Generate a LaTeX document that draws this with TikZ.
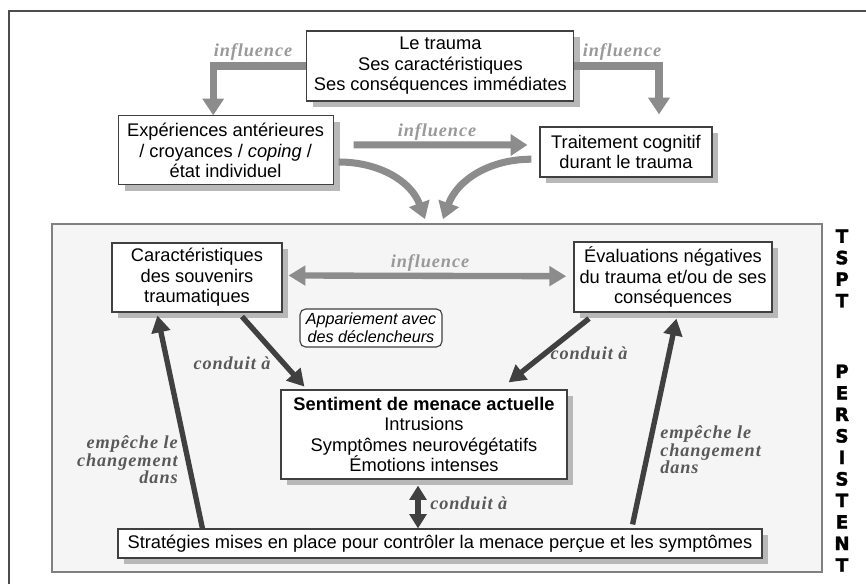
\documentclass[tikz,border=0pt]{standalone}
\usepackage{fontspec}
\setmainfont{Liberation Sans}
\newfontfamily\etiqfont[LetterSpace=5]{Liberation Serif}
\newfontfamily\tsptfont[BoldFeatures={FakeBold=1.8}]{DejaVu Sans}
\usepackage{tikz}
\usetikzlibrary{arrows.meta, positioning, shadows, calc}

\begin{document}
\begin{tikzpicture}[
  boite/.style={
    draw=black!75, line width=0.8pt, fill=white, align=center,
    font=\fontsize{13}{14.6}\selectfont, inner sep=2pt,
    drop shadow={shadow xshift=0.16cm, shadow yshift=-0.16cm, fill=black!28, opacity=1}
  },
  fleche/.style={
    -{Triangle[length=0.42cm, width=0.52cm]},
    line width=5pt, draw=black!45
  },
  flechesombre/.style={
    -{Triangle[length=0.42cm, width=0.46cm]},
    line width=3.8pt, draw=black!75
  },
  etiq/.style={font=\etiqfont\bfseries\itshape\fontsize{13}{12.5}\selectfont,
    text=black!40, inner sep=0pt, align=center},
  etiqsombre/.style={etiq, text=black!65}
]
\useasboundingbox (0,0) rectangle (21.65,14.6);

% --- cadre extérieur ---
\draw[line width=1.1pt, draw=black!70] (0.225,0) -- (0.225,14.325) -- (21.65,14.325);

% --- 1. Le trauma et ce qui l'entoure ---
\node[boite, minimum width=6.675cm, minimum height=1.75cm] (trauma) at (11.01,12.95)
  {Le trauma\\Ses caractéristiques\\Ses conséquences immédiates};
\node[boite, minimum width=5.375cm, minimum height=1.725cm] (exp) at (5.64,10.84)
  {Expériences antérieures\\/ croyances / \textit{coping} /\\état individuel};
\node[boite, minimum width=4.3cm, minimum height=1.25cm] (trait) at (15.65,10.8)
  {Traitement cognitif\\durant le trauma};

% --- 2. Cadre TSPT persistant ---
\node[draw=black!50, line width=1.2pt, fill=black!4, minimum width=19.25cm,
  minimum height=8.7cm] (tspt) at (10.925,4.65) {};
\node[font=\tsptfont\bfseries\fontsize{13}{15.3}\selectfont, align=center, inner sep=0pt]
  (persist) at (21.05,4.5875)
  {T\\S\\P\\T\\[35pt]P\\E\\R\\S\\I\\S\\T\\E\\N\\T};

\node[boite, minimum width=4.25cm, minimum height=1.725cm] (car) at (4.925,7.6625)
  {Caractéristiques\\des souvenirs\\traumatiques};
\node[boite, minimum width=4.95cm, minimum height=1.75cm] (eval) at (16.825,7.675)
  {Évaluations négatives\\du trauma et/ou de ses\\conséquences};
\node[draw=black!75, line width=0.8pt, fill=white, rounded corners=4pt, align=center,
  font=\itshape\fontsize{11.5}{12.5}\selectfont, inner sep=2pt,
  minimum width=3.55cm, minimum height=0.95cm] (app) at (9.275,6.4)
  {Appariement avec\\des déclencheurs};
\node[boite, minimum width=7.15cm, minimum height=2.225cm] (sent) at (10.6,3.7375)
  {\textbf{Sentiment de menace actuelle}\\Intrusions\\Symptômes neurovégétatifs\\Émotions intenses};
\node[boite, minimum width=16.1cm, minimum height=0.725cm] (strat) at (11.0,1.0125)
  {Stratégies mises en place pour contrôler la menace perçue et les symptômes};

% --- flèches d'influence (gris clair) ---
\draw[fleche] (trauma.west) -| ([xshift=-0.31cm]exp.north);
\draw[fleche] (trauma.east) -| ([xshift=0.825cm, yshift=0.3cm]trait.north);
\draw[fleche] ([xshift=0.5cm, yshift=0.14cm]exp.east) -- ([xshift=-0.3cm, yshift=0.175cm]trait.west);
\draw[fleche] ([xshift=0.125cm, yshift=-0.29cm]exp.east)
  to[out=0, in=110] ([xshift=-0.3cm, yshift=0.1cm]tspt.north);
\draw[fleche] ([xshift=-0.2cm, yshift=-0.18cm]trait.west)
  to[out=180, in=70] ([xshift=0.15cm, yshift=0.1cm]tspt.north);
\draw[fleche, line width=4.5pt, {Triangle[length=0.42cm, width=0.48cm]}-{Triangle[length=0.42cm, width=0.48cm]}]
  ([xshift=0.15cm, yshift=0.05cm]car.east) -- ([xshift=-0.18cm, yshift=0.02cm]eval.west);

\node[etiq] (inf1) at (6.325,13.3) {influence};
\node[etiq] (inf2) at (15.55,13.3) {influence};
\node[etiq] (inf3) at (10.925,11.3) {influence};
\node[etiq] (inf4) at (10.75,8.025) {influence};

% --- flèches sombres ---
\draw[flechesombre] ([xshift=1.125cm, yshift=-0.1cm]car.south) -- ([xshift=0.6cm, yshift=0.07cm]sent.north west);
\draw[flechesombre] ([xshift=-2.1cm, yshift=-0.15cm]eval.south) -- ([xshift=-1.475cm, yshift=0.175cm]sent.north east);
\draw[flechesombre] ([xshift=2.125cm]strat.north west) -- ([xshift=1.15cm, yshift=-0.075cm]car.south west);
\draw[flechesombre] ([xshift=-3.25cm, yshift=0.1cm]strat.north east) -- ([xshift=2.575cm, yshift=-0.15cm]eval.south west);
\draw[flechesombre, {Triangle[length=0.36cm, width=0.42cm]}-{Triangle[length=0.36cm, width=0.42cm]}]
  ([xshift=-0.15cm, yshift=-0.15cm]sent.south) -- ([xshift=-0.15cm]sent.south |- strat.north);

\node[etiqsombre] (cond1) at (5.8,5.525) {conduit à};
\node[etiqsombre] (cond2) at (14.725,5.775) {conduit à};
\node[etiqsombre, anchor=west] (cond3) at (10.75,2.025) {conduit à};
\node[etiqsombre, anchor=east, align=right] (emp1) at (4.45,3.1) {empêche le\\changement\\dans};
\node[etiqsombre, anchor=west, align=left] (emp2) at (16.5,3.35) {empêche le\\changement\\dans};

\end{tikzpicture}
\end{document}
